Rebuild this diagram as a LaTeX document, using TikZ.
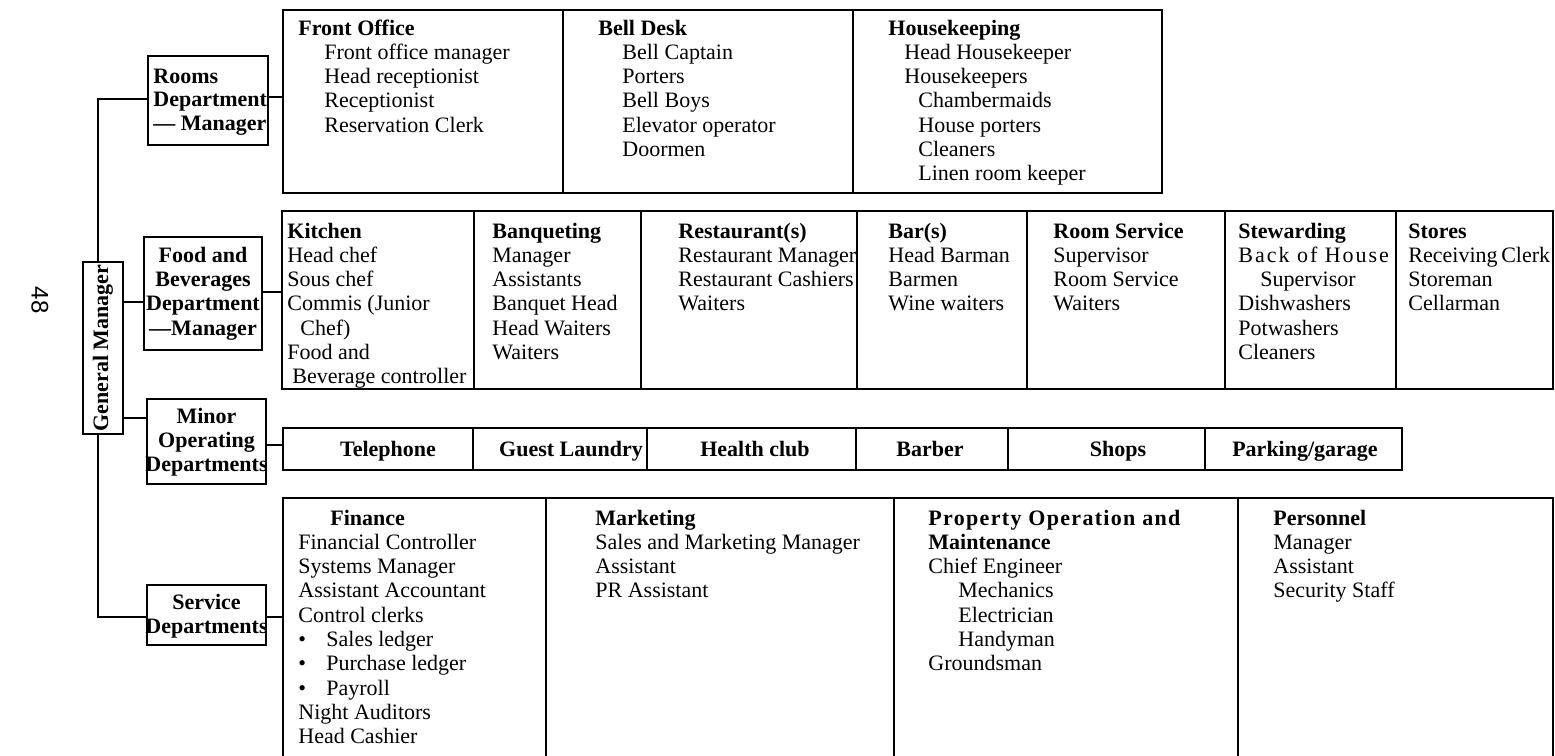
\documentclass[tikz,border=0pt]{standalone}
\usepackage{fontspec}
\setmainfont{Liberation Serif}
\newfontfamily\pagefont{Liberation Sans}
\newfontfamily\spacedA[LetterSpace=9]{Liberation Serif}
\newfontfamily\spacedB[LetterSpace=6]{Liberation Serif}
\usetikzlibrary{fit}

\newcommand\ind[1]{\hspace*{#1}}
\newcommand\bul{\makebox[14pt][l]{\textbullet}}
% stacked lines whose reference point is the baseline of the first line
\newcommand\llines[1]{\begin{tabular}[t]{@{}l@{}}#1\end{tabular}}
\newcommand\clines[1]{\begin{tabular}[t]{@{}c@{}}#1\end{tabular}}

\begin{document}
\begin{tikzpicture}[x=0.5pt,y=-0.5pt,
  frame/.style={draw, line width=1.1pt, inner sep=0pt},
  link/.style={line width=1.1pt},
  txt/.style={inner sep=0pt, anchor=base west,
    font=\fontsize{11}{12.15}\selectfont},
  dept/.style={inner sep=0pt, anchor=base,
    font=\fontsize{11}{12.2}\selectfont\bfseries},
  minorlbl/.style={inner sep=0pt, anchor=base,
    font=\fontsize{11}{12}\selectfont\bfseries}]

\useasboundingbox (0,0) rectangle (1555,756);

% page number
\node[font=\pagefont\fontsize{12}{12}\selectfont, rotate=-90, inner sep=0pt] (pg) at (40,300) {48};

% general manager and department boxes
\node[frame, fit={(83,262) (123,434)}] (gm) {};
\node[rotate=90, inner sep=0pt, font=\fontsize{11}{12}\selectfont\bfseries] (gm-t) at (gm.center) {General Manager};

\node[frame, fit={(148,56) (268,145)}] (rooms) {};
\node[txt, font=\fontsize{11}{11.8}\selectfont\bfseries] (rooms-t) at (153,83) {\llines{Rooms\\Department\\--- Manager}};

\node[frame, fit={(144,237) (262,350)}] (food) {};
\node[dept] (food-t) at (203,262) {\clines{Food and\\Beverages\\Department\\---Manager}};

\node[frame, fit={(147,399) (266,484)}] (minor) {};
\node[dept] (minor-t) at (206.5,423) {\clines{Minor\\Operating\\Departments}};

\node[frame, fit={(147,585) (266,645)}] (service) {};
\node[dept] (service-t) at (206.5,609) {\clines{Service\\Departments}};

% rooms division
\node[frame, fit={(283,10) (563,193)}] (fo) {};
\node[frame, fit={(563,10) (853,193)}] (bd) {};
\node[frame, fit={(853,10) (1162,193)}] (hk) {};
\node[txt] (fo-t) at (298,35) {\llines{\textbf{Front Office}\\\ind{13pt}Front office manager\\\ind{13pt}Head receptionist\\\ind{13pt}Receptionist\\\ind{13pt}Reservation Clerk}};
\node[txt] (bd-t) at (598,35) {\llines{\textbf{Bell Desk}\\\ind{12pt}Bell Captain\\\ind{12pt}Porters\\\ind{12pt}Bell Boys\\\ind{12pt}Elevator operator\\\ind{12pt}Doormen}};
\node[txt] (hk-t) at (888,35) {\llines{\textbf{Housekeeping}\\\ind{8pt}Head Housekeeper\\\ind{8pt}Housekeepers\\\ind{15pt}Chambermaids\\\ind{15pt}House porters\\\ind{15pt}Cleaners\\\ind{15pt}Linen room keeper}};

% food and beverages division
\node[frame, fit={(282,211) (474,389)}] (ki) {};
\node[frame, fit={(474,211) (641,389)}] (bq) {};
\node[frame, fit={(641,211) (857,389)}] (rs) {};
\node[frame, fit={(857,211) (1027,389)}] (bar) {};
\node[frame, fit={(1027,211) (1225,389)}] (rsv) {};
\node[frame, fit={(1225,211) (1396,389)}] (stw) {};
\node[frame, fit={(1396,211) (1553,389)}] (sto) {};
\node[txt] (ki-t) at (287,238) {\llines{\textbf{Kitchen}\\Head chef\\Sous chef\\Commis (Junior\\\ind{6.5pt}Chef)\\Food and\\\ind{2.5pt}Beverage controller}};
\node[txt] (bq-t) at (492,238) {\llines{\textbf{Banqueting}\\Manager\\Assistants\\Banquet Head\\Head Waiters\\Waiters}};
\node[txt] (rs-t) at (678,238) {\llines{\textbf{Restaurant(s)}\\Restaurant Manager\\Restaurant Cashiers\\Waiters}};
\node[txt] (bar-t) at (888,238) {\llines{\textbf{Bar(s)}\\Head Barman\\Barmen\\Wine waiters}};
\node[txt] (rsv-t) at (1053,238) {\llines{\textbf{Room Service}\\Supervisor\\Room Service\\Waiters}};
\node[txt] (stw-t) at (1238,238) {\llines{\textbf{Stewarding}\\{\spacedA Back of House}\\\ind{11pt}Supervisor\\Dishwashers\\Potwashers\\Cleaners}};
\node[txt] (sto-t) at (1408,238) {\llines{\textbf{Stores}\\Receiving\,Clerk\\Storeman\\Cellarman}};

% minor operating departments
\node[frame, fit={(283,428) (473,470)}] (tel) {};
\node[frame, fit={(473,428) (647,470)}] (gl) {};
\node[frame, fit={(647,428) (856,470)}] (hc) {};
\node[frame, fit={(856,428) (1008,470)}] (bb) {};
\node[frame, fit={(1008,428) (1205,470)}] (sh) {};
\node[frame, fit={(1205,428) (1402,470)}] (pk) {};
\node[minorlbl] (tel-t) at (388,456) {Telephone};
\node[minorlbl] (gl-t) at (571,456) {Guest Laundry};
\node[minorlbl] (hc-t) at (755,456) {Health club};
\node[minorlbl] (bb-t) at (930,456) {Barber};
\node[minorlbl] (sh-t) at (1118,456) {Shops};
\node[minorlbl] (pk-t) at (1305,456) {Parking/garage};

% service departments, running on past the lower edge
\begin{scope}
\clip (0,0) rectangle (1555,756);
\node[frame, fit={(283,498) (546,790)}] (fin) {};
\node[frame, fit={(546,498) (894,790)}] (mkt) {};
\node[frame, fit={(894,498) (1238,790)}] (pom) {};
\node[frame, fit={(1238,498) (1553,790)}] (per) {};
\end{scope}
\node[txt] (fin-t) at (298,525) {\llines{\ind{16pt}\textbf{Finance}\\Financial Controller\\Systems Manager\\Assistant Accountant\\Control clerks\\\bul Sales ledger\\\bul Purchase ledger\\\bul Payroll\\Night Auditors\\Head Cashier}};
\node[txt] (mkt-t) at (595,525) {\llines{\textbf{Marketing}\\Sales and Marketing Manager\\Assistant\\PR Assistant}};
\node[txt] (pom-t) at (928,525) {\llines{{\spacedB\bfseries Property Operation and}\\\textbf{Maintenance}\\Chief Engineer\\\ind{15pt}Mechanics\\\ind{15pt}Electrician\\\ind{15pt}Handyman\\Groundsman}};
\node[txt] (per-t) at (1273,525) {\llines{\textbf{Personnel}\\Manager\\Assistant\\Security Staff}};

% reporting lines
\coordinate (yR) at (0,99);
\coordinate (yR2) at (0,97);
\coordinate (yF) at (0,302);
\coordinate (yF2) at (0,292);
\coordinate (yM) at (0,418);
\coordinate (yM2) at (0,445);
\coordinate (yS) at (0,617);
\draw[link] (rooms.west |- yR) -| ([xshift=-2.5pt]gm.north);
\draw[link] ([xshift=-2.5pt]gm.south) |- (service.west |- yS);
\draw[link] (gm.east |- yF) -- (food.west |- yF);
\draw[link] (gm.east |- yM) -- (minor.west |- yM);
\draw[link] (rooms.east |- yR2) -- (fo.west |- yR2);
\draw[link] (food.east |- yF2) -- (ki.west |- yF2);
\draw[link] (minor.east |- yM2) -- (tel.west |- yM2);
\draw[link] (service.east |- yS) -- (fin.west |- yS);
\end{tikzpicture}
\end{document}
